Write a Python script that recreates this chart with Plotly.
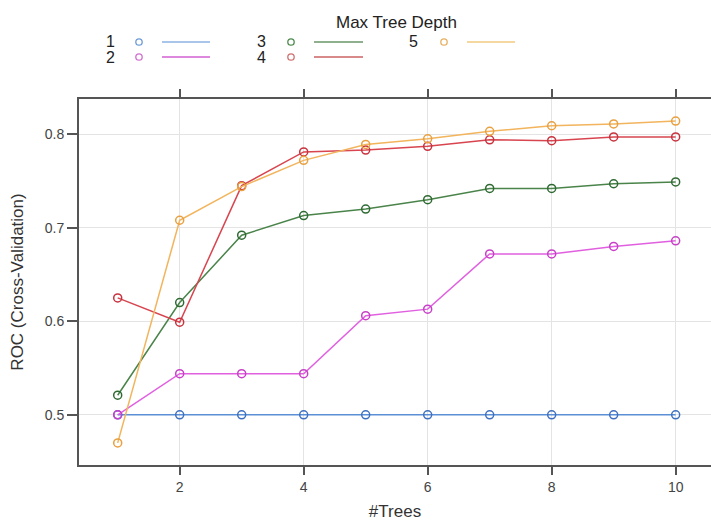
import plotly.graph_objects as go

trees = [1, 2, 3, 4, 5, 6, 7, 8, 9, 10]
depth_labels = ["1", "2", "3", "4", "5"]
roc_depth1 = [0.500, 0.500, 0.500, 0.500, 0.500, 0.500, 0.500, 0.500, 0.500, 0.500]
roc_depth2 = [0.500, 0.544, 0.544, 0.544, 0.606, 0.613, 0.672, 0.672, 0.680, 0.686]
roc_depth3 = [0.521, 0.620, 0.692, 0.713, 0.720, 0.730, 0.742, 0.742, 0.747, 0.749]
roc_depth4 = [0.625, 0.599, 0.745, 0.781, 0.783, 0.787, 0.794, 0.793, 0.797, 0.797]
roc_depth5 = [0.470, 0.708, 0.744, 0.772, 0.789, 0.795, 0.803, 0.809, 0.811, 0.814]
y_ticks = [0.5, 0.6, 0.7, 0.8]
x_ticks = [2, 4, 6, 8, 10]

series = [roc_depth1, roc_depth2, roc_depth3, roc_depth4, roc_depth5]
line_colors = ["#5b8fd6", "#e060e0", "#4a844a", "#d8454f", "#f2b45c"]
marker_colors = ["#3f70c0", "#c840c8", "#2f6a33", "#c8323e", "#e8a040"]
legend_line_colors = ["#a9c6ea", "#dd88dd", "#8fb08f", "#d88a8a", "#f5d8a0"]
legend_marker_colors = ["#6f9bd6", "#d070d0", "#4e8a4e", "#d07070", "#e8b060"]

W, H = 711, 521
L, R, T, B = 79, 0, 99, 56
FONT = "Liberation Sans, Arial, Helvetica, sans-serif"

fig = go.Figure()
for vals, lc, mc, name in zip(series, line_colors, marker_colors, depth_labels):
    fig.add_trace(go.Scatter(
        x=trees, y=vals, mode="lines+markers", name=name,
        line=dict(color=lc, width=1.5),
        marker=dict(symbol="circle-open", size=8, color=mc, line=dict(width=1.5, color=mc)),
        showlegend=False,
    ))

pw = W - L - R
ph = H - T - B


def px_x(px):
    return (px - L) / pw


def px_y(py):
    return (H - B - py) / ph


# Manual lattice-style legend
legend_cols = [(110, 139, 162, 210), (261, 291, 314, 363), (413, 444, 467, 515)]
legend_rows = [42, 57]
annotations = [dict(text="Max Tree Depth", x=px_x(396), y=px_y(22), xref="paper", yref="paper",
                    showarrow=False, font=dict(size=17, color="#222", family=FONT),
                    xanchor="center", yanchor="middle")]
shapes = []
for i, lab in enumerate(depth_labels):
    col = legend_cols[i // 2]
    row = legend_rows[i % 2]
    tx, cx, lx0, lx1 = col
    annotations.append(dict(text=lab, x=px_x(tx), y=px_y(row), xref="paper", yref="paper",
                            showarrow=False, font=dict(size=16, color="#222", family=FONT),
                            xanchor="center", yanchor="middle"))
    shapes.append(dict(type="circle", xref="paper", yref="paper",
                       xsizemode="pixel", ysizemode="pixel",
                       xanchor=px_x(cx), yanchor=px_y(row),
                       x0=-3.2, x1=3.2, y0=-3.2, y1=3.2,
                       line=dict(color=legend_marker_colors[i], width=1.3)))
    shapes.append(dict(type="line", xref="paper", yref="paper",
                       x0=px_x(lx0), x1=px_x(lx1), y0=px_y(row), y1=px_y(row),
                       line=dict(color=legend_line_colors[i], width=2)))

fig.update_layout(
    width=W, height=H, autosize=False,
    margin=dict(l=L, r=R, t=T, b=B),
    paper_bgcolor="white", plot_bgcolor="white",
    font=dict(family=FONT, color="#333"),
    annotations=annotations,
    shapes=shapes,
    xaxis=dict(
        range=[0.376, 10.57], tickvals=x_ticks, ticktext=[str(v) for v in x_ticks],
        showgrid=True, gridcolor="#e4e4e4", gridwidth=1, zeroline=False,
        showline=True, linecolor="#555", linewidth=2, mirror="ticks",
        ticks="outside", ticklen=8, tickwidth=1.5, tickcolor="#555",
        tickfont=dict(size=14, color="#444", family=FONT),
        title=dict(text="#Trees", font=dict(size=17, color="#333", family=FONT), standoff=13),
    ),
    yaxis=dict(
        range=[0.4464, 0.8376], tickvals=y_ticks, ticktext=["0.5", "0.6", "0.7", "0.8"],
        showgrid=True, gridcolor="#e4e4e4", gridwidth=1, zeroline=False,
        showline=True, linecolor="#555", linewidth=2, mirror=False,
        ticks="outside", ticklen=10, tickwidth=1.5, tickcolor="#555",
        tickfont=dict(size=14, color="#444", family=FONT),
        title=dict(text="ROC (Cross-Validation)", font=dict(size=17, color="#333", family=FONT), standoff=17),
    ),
)

fig.write_html("out.html")
